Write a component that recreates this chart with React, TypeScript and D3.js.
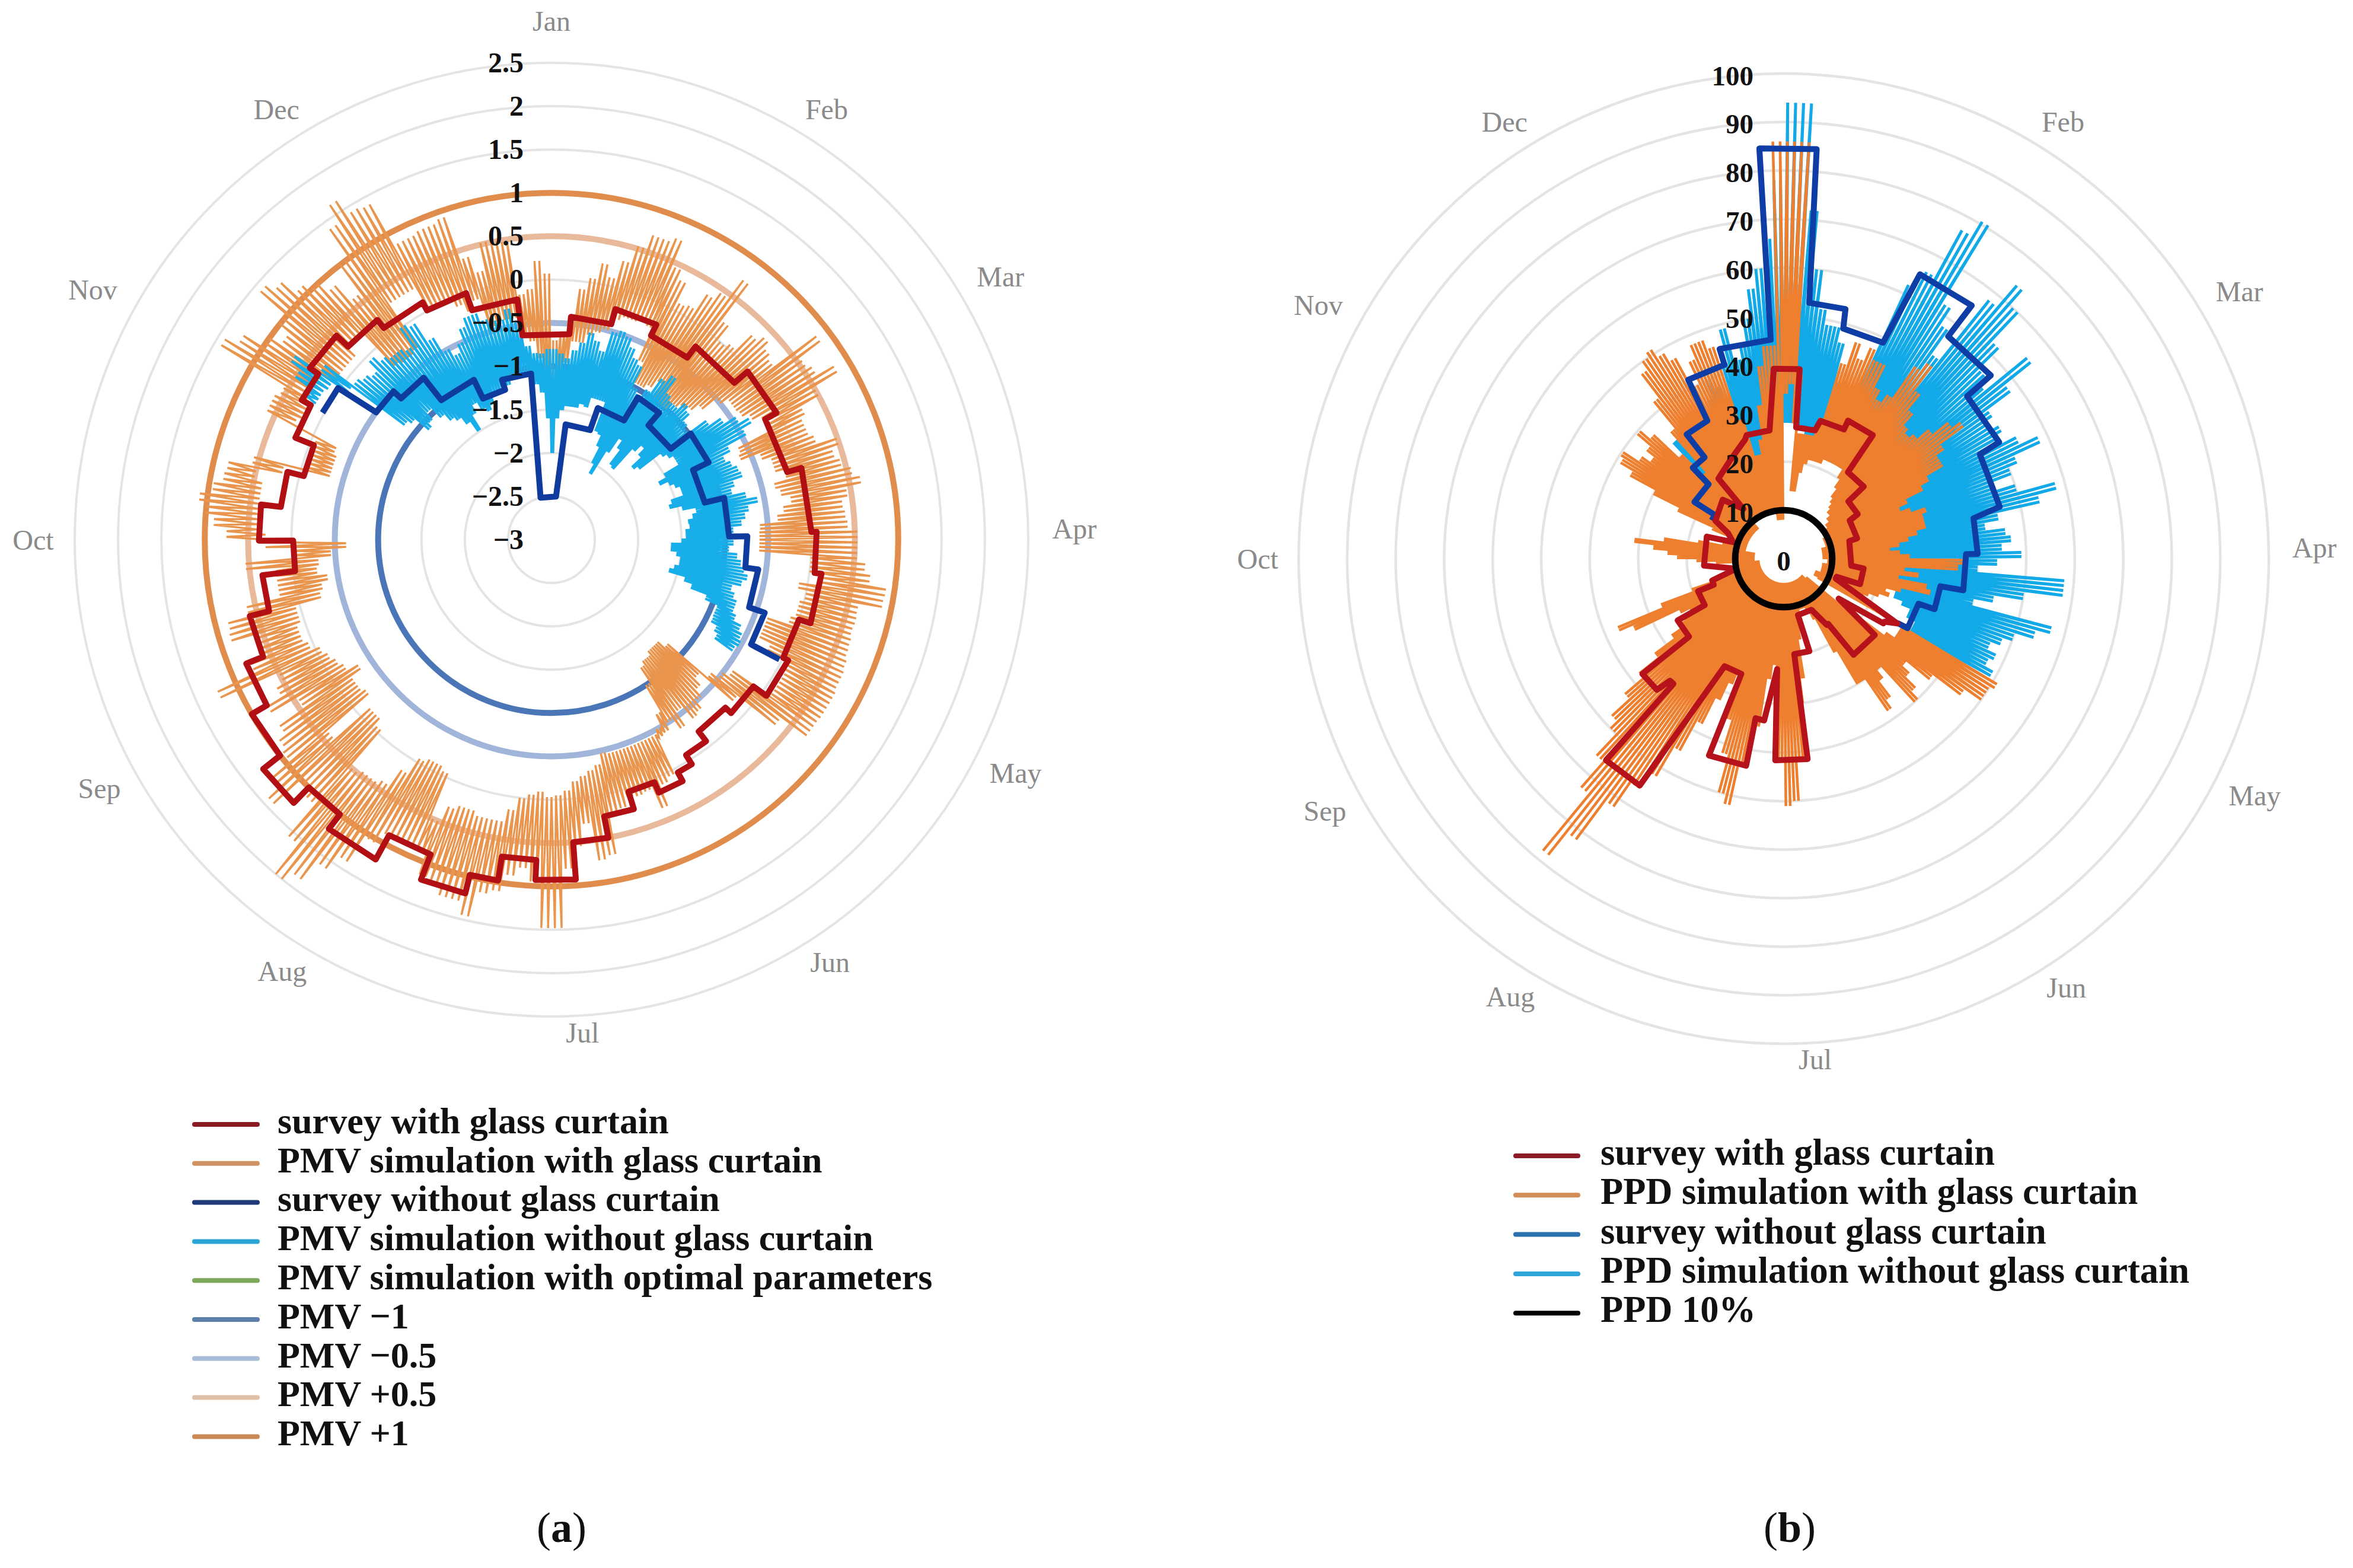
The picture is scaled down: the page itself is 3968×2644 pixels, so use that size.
import * as d3 from "d3";

// ---- data (angles in degrees clockwise from Jan) ----
const monthNames = ["Jan", "Feb", "Mar", "Apr", "May", "Jun", "Jul", "Aug", "Sep", "Oct", "Nov", "Dec"];
const monthAngles = [0, 32.6, 59.6, 88.8, 116.7, 146.6, 176.4, 212, 241.2, 270, 298.6, 327.4];
const monthRadii = [875, 861, 878, 882, 876, 853, 833, 857, 870, 874, 881, 861];

const pmvTicks = [2.5, 2, 1.5, 1, 0.5, 0, -0.5, -1, -1.5, -2, -2.5, -3];
const pmvTickLabels = ["2.5", "2", "1.5", "1", "0.5", "0", "−0.5", "−1", "−1.5", "−2", "−2.5", "−3"];
const ppdTicks = [100, 90, 80, 70, 60, 50, 40, 30, 20, 10, 0];

// survey lines: [from angle, to angle, value]
const pmvSurveyGlass: number[][] = [
  [351.9, 365, -0.62], [5, 15.5, -0.42], [15.5, 26, -0.24], [26, 36.7, -0.38], [36.7, 49.4, -0.22],
  [49.4, 60.6, -0.02], [60.6, 74, -0.17], [74, 88.3, 0], [88.3, 97.2, 0.06], [97.2, 107.9, 0.14],
  [107.9, 117, 0], [117, 126, 0.065], [126, 134, -0.12], [134, 142.5, -0.21], [142.5, 148, -0.07],
  [148, 151.5, 0.055], [151.5, 157, 0.17], [157, 163, 0.04], [163, 169.2, 0.25], [169.2, 175.9, 0.5],
  [175.9, 182.7, 0.93], [182.7, 188.9, 0.7], [188.9, 193.7, 0.98], [193.7, 201, 1.2], [201, 208.8, 0.89],
  [208.8, 217.6, 1.21], [217.6, 224.4, 1], [224.4, 231.5, 1.25], [231.5, 239.8, 1], [239.8, 247.9, 0.8],
  [247.9, 255.8, 0.59], [255.8, 263, 0.36], [263, 269.8, -0.02], [269.8, 276.9, 0.375], [276.9, 284.4, 0.145],
  [284.4, 291.7, -0.05], [291.7, 299.2, 0.18], [299.2, 305.4, 0.3], [305.4, 313.5, 0.42], [313.5, 321.6, 0.235],
  [321.6, 331.5, 0.115], [331.5, 340.9, 0.01], [340.9, 351.9, -0.2],
];
const pmvSurveyNoGlass: number[][] = [
  [299, 305.4, 0.02], [306, 313.2, -0.5], [313.2, 321.7, -0.62], [321.7, 334.1, -0.95], [334.1, 342.8, -1.19],
  [342.8, 353, -1.07], [345.4, 366, -2.5], [367, 379.4, -1.66], [379.4, 391.3, -1.39], [391.3, 400.3, -1.08],
  [400.3, 412.7, -1.27], [412.7, 423.8, -0.98], [423.8, 436.4, -1.18], [436.4, 449, -0.95], [449, 458.2, -0.74],
  [458.2, 468.9, -0.59], [468.9, 477.7, -0.4], [477.7, 477.7, -0.03],
];
const ppdSurveyGlass: number[][] = [
  [-3, 4.8, 39.2], [5.4, 13.7, 27.2], [14.9, 25, 29.4], [25, 35.8, 31.4], [36.6, 48, 22.2], [48.5, 59, 17.8],
  [60, 74.5, 15.7], [75, 96, 14], [97, 108.5, 16.6], [109, 111, 11.5], [119.7, 119.7, 27], [122, 123, 24.5],
  [126, 126, 14], [130, 144, 24.5], [145.7, 147, 16.3], [151.5, 165.8, 12], [164.5, 173.7, 19.8], [173.2, 182.4, 41.6],
  [183.4, 183.4, 22.8], [186.9, 186.9, 33.6], [190, 190, 33.4], [190.3, 200.8, 43.4], [200.2, 208.8, 25.3],
  [212.4, 221.4, 55.4], [221.4, 223, 34.4], [224, 230.8, 37.6], [230.5, 239.8, 25.3], [239.5, 249.2, 18.9],
  [249.5, 253, 15.4], [258, 258, 10], [265, 286, 16.5], [288, 288, 11], [294.6, 294.6, 12.6], [299, 299, 16.1],
  [314, 314, 17.5], [321, 321, 13.2], [320.8, 320.8, 21.3], [331, 331, 23], [342, 342, 25.8], [343.3, 353.7, 26.6],
];
const ppdSurveyNoGlass: number[][] = [
  [298, 302.4, 16.8], [302.4, 314.7, 21.8], [315, 322, 26.5], [322, 331, 32.5], [331.9, 343, 41.8], [343, 356.6, 45.2],
  [356.6, 364.6, 84.7], [365.7, 373.9, 53], [374.5, 384.7, 49], [385.6, 396.6, 65], [396.5, 408.5, 57], [408.5, 421.6, 50.5],
  [422, 436.5, 45.8], [438, 448.6, 40], [448.6, 460, 37.6], [460, 468.5, 32.8], [468.5, 479.3, 29.3], [479.5, 479.5, 26.9],
];

// simulation series, one low/high pair every 2 degrees
const pmvGlassHigh = [
  -0.7, -0.6, -0.45, -0.09, 0.05, 0.24, 0.1, 0.32, 0.53, 0.7,
  0.7, 0.76, 0.45, 0.34, 0.1, 0.13, 0.35, 0.45, 0.72, 0.2,
  0, 0.05, 0.3, 0.38, 0.3, 0.25, 0.85, 0.55, 0.6, 0.82,
  0.5, 0.26, 0.2, 0.2, 0.25, 0.49, 0.4, 0.45, 0.55, 0.63,
  0.45, 0.38, 0.4, 0.42, 0.53, 0.53, 0.53, 0.63, 0.7, 0.9,
  0.89, 0.62, 0.63, 0.62, 0.64, 0.65, 0.68, 0.7, 0.7, 0.72,
  0.72, 0.72, 0.71, 0.71, 0.35, -0.2, -0.7, -0.6, -0.5, -0.4,
  -0.37, -0.55, -0.36, -0.5, -0.42, -0.4, 0.05, 0.1, 0.35, 0.1,
  0.12, 0.1, 0.2, 0.25, 0.7, 0.74, 0.3, 0.55, 0.8, 1.48,
  1.48, 0.95, 0.8, 0.9, 1.1, 1.15, 1.45, 1.3, 1.3, 1.2,
  1.15, 0.9, 0.9, 0.9, 0.9, 1.05, 1.4, 1.6, 1.87, 2,
  1.57, 1.1, 1, 1.42, 1.25, 0.95, 0.9, 0.8, 0.45, 0.8,
  0.6, 0.5, 1.23, 0.75, 0.6, 0.55, 0.87, 0.85, 0.6, 0.2,
  0.2, 0.2, 0.54, 0, 0.3, 0.75, 0.9, 1, 1.09, 0.95,
  0.85, 0.83, 0.56, -0.07, -0.07, -0.07, -0.05, 0.6, 0.6, 0.55,
  1.42, 1.26, 1, 0.85, 1, 1.41, 1.3, 1.1, 1, 0.85,
  0.6, 1, 1.4, 1.63, 1.43, 1.4, 0.85, 0.85, 0.88, 0.88,
  0.92, 0.4, 0.2, 0.52, 0.5, 0.48, -0.15, -0.1, 0.22, 0.07,
];
const pmvGlassLow = [
  -2, -1.1, -0.95, -0.7, -0.7, -0.6, -0.55, -0.5, -0.35, -0.3,
  -0.3, -0.25, -0.3, -0.7, -0.95, -0.95, -0.9, -0.8, -1, -1,
  -1, -0.9, -0.85, -0.8, -0.7, -0.5, -0.4, -0.4, -0.38, -0.3,
  -0.2, -0.2, -0.6, -0.63, -0.4, -0.3, -0.3, -0.2, -0.35, -0.3,
  -0.2, -0.3, -0.38, -0.59, -0.6, -0.6, -0.6, 0, 0, 0.15,
  -0.1, 0, -0.05, -0.05, -0.1, -0.35, -0.35, -0.35, -0.2, 0.05,
  0.1, 0.1, 0.1, -0.42, -0.5, -0.6, -1.2, -1.3, -1.3, -1.3,
  -1.25, -1.25, -1.2, -1, -0.65, -0.5, -0.45, -0.45, -0.45, -0.45,
  -0.45, -0.45, -0.45, -0.47, -0.35, -0.3, -0.25, -0.2, -0.1, -0.05,
  -0.03, -0.09, -0.05, 0, 0.15, 0.3, 0.3, 0.3, 0.25, 0.25,
  0.3, 0.5, -0.05, -0.1, -0.1, -0.05, 0.17, 0.4, 0.45, 0.45,
  0.5, -0.05, -0.14, -0.14, 0.4, -0.24, -0.2, -0.2, -0.34, -0.2,
  -0.15, -0.1, -0.05, 0.05, 0.1, 0.1, 0.05, 0.05, -0.26, -0.3,
  -0.38, -0.27, -0.3, -0.45, -0.63, 0.3, 0.4, 0.4, 0.4, 0.4,
  0.4, 0.5, 0.2, -0.34, -0.34, -0.34, -0.3, 0.25, 0.2, 0.2,
  0.25, 0.25, 0.25, 0.1, 0.1, 0.1, 0.1, 0.2, 0.2, -0.3,
  -0.33, -0.33, -0.3, 0.3, 0.3, 0.3, 0, 0, 0, -0.1,
  -0.2, -0.1, -0.45, -0.41, -0.41, -0.41, -0.6, -0.7, -0.9, -1.4,
];
const pmvNoGlassStart = 300;
const pmvNoGlassHigh = [
  0.3, 0.5, 0.64, 0.3, -0.1, -0.15, -0.2, -0.06, -0.15, -0.2,
  -0.2, -0.25, 0, -0.05, -0.3, -0.5, -0.6, -0.5, -0.35, -0.25,
  -0.25, -0.35, -0.39, -0.4, -0.29, -0.45, -0.75, -0.84, -0.85, -0.8,
  -0.8, -0.85, -0.9, -0.8, -0.7, -0.57, -0.65, -0.75, -0.5, -0.46,
  -0.5, -0.6, -0.7, -0.75, -1, -1.05, -0.95, -0.75, -0.65, -0.85,
  -0.9, -0.9, -0.8, -0.85, -0.95, -1, -0.75, -0.6, -0.45, -0.33,
  -0.45, -0.7, -0.8, -0.75, -0.7, -0.68, -0.8, -0.85, -0.7, -0.58,
  -0.7, -0.75, -0.8, -0.9, -0.85, -0.9, -0.95, -0.85, -0.8, -0.75,
  -0.7, -0.75, -0.85, -0.8, -0.75, -0.75, -0.7, -0.6, -0.55, -0.52,
  -0.55,
];
const pmvNoGlassLow = [
  0.14, 0.14, 0.11, -0.1, -0.85, -0.9, -1.1, -1.05, -0.95, -1.1,
  -1.2, -1.25, -1.35, -1.49, -1.3, -1.2, -1.3, -1.35, -1.3, -1.2,
  -1.2, -1.15, -1.15, -1.1, -1.1, -1.05, -1.05, -1.2, -1.3, -1.6,
  -2, -1.6, -1.5, -1.45, -1.45, -1.45, -1.4, -1.42, -1.3, -1.3,
  -1.3, -1.65, -1.67, -1.8, -2, -2.12, -1.8, -1.6, -1.7, -1.9,
  -1.92, -1.6, -1.5, -1.6, -1.75, -1.7, -1.4, -1.35, -1.3, -1.3,
  -1.5, -1.6, -1.5, -1.45, -1.4, -1.4, -1.55, -1.59, -1.45, -1.3,
  -1.35, -1.41, -1.4, -1.45, -1.45, -1.5, -1.62, -1.62, -1.55, -1.5,
  -1.5, -1.55, -1.6, -1.4, -1.3, -1.1, -0.94, -0.94, -0.93, -0.85,
  -0.8,
];
const ppdGlassHigh = [
  86, 86, 38, 26, 26, 26, 26, 30, 42, 47,
  44, 47, 45, 45, 40, 38, 40, 48, 50, 44,
  40, 37, 36, 37, 40, 44, 46, 40, 38, 38,
  34, 32, 28, 26, 28, 31, 30, 30, 30, 28,
  26, 24, 22, 24, 26, 37, 36, 25, 28, 24,
  30, 31, 25, 22, 23, 21, 19, 18, 16, 22,
  51, 50, 50, 46, 39, 33, 35, 38, 40, 30,
  32, 36, 38, 30, 30, 22, 14, 12, 11, 11,
  11, 11, 12, 13, 17, 25, 30, 41, 50, 51,
  41, 30, 22, 25, 35, 43, 52, 50, 42, 35,
  25, 28, 32, 38, 45, 52, 56, 62, 72, 78,
  63, 56, 50, 48, 43, 38, 33, 28, 25, 24,
  22, 24, 34, 37, 27, 20, 16, 14, 11, 11,
  10, 10, 9, 14, 18, 22, 24, 27, 31, 25,
  18, 13, 11, 10, 10, 12, 16, 24, 30, 36,
  39, 39.7, 36, 34, 36, 39.6, 37, 30, 24, 35,
  42, 48, 50, 51, 49, 47, 40, 45, 48, 48,
  46, 30, 22, 22, 25, 32, 40, 44, 44, 86,
];
const ppdGlassLow = [
  34, 36, 28, 14, 14, 18, 20, 21, 21, 21,
  21, 22, 22, 22, 22, 22, 22, 20, 18, 16,
  15, 14, 13, 13, 12, 12, 11, 11, 10, 10,
  10, 10, 9, 9, 9, 9, 9, 9, 8, 8,
  8, 8, 8, 8, 8, 9, 9, 9, 9, 8,
  8, 8, 8, 8, 8, 8, 7, 7, 7, 8,
  28, 28, 28, 26, 20, 6, 6, 5, 5, 5,
  5, 5, 5, 5, 5, 5, 5, 5, 5, 5,
  5, 5, 5, 5, 5, 5, 5, 5, 5, 5,
  5, 5, 5, 5, 5, 5, 5, 5, 5, 5,
  5, 5, 5, 5, 5, 5, 5, 5, 5, 5,
  5, 5, 5, 5, 5, 5, 5, 5, 5, 5,
  5, 5, 5, 5, 5, 5, 5, 5, 5, 5,
  5, 5, 6, 6, 6, 6, 6, 6, 6, 6,
  8, 8, 8, 8, 8, 8, 8, 8, 8, 8,
  8, 8, 8, 8, 8, 8, 8, 8, 8, 8,
  10, 10, 10, 10, 10, 10, 10, 10, 10, 10,
  10, 10, 10, 10, 10, 10, 8, 8, 8, 8,
];
const ppdNoGlassStart = 316;
const ppdNoGlassHigh = [
  33, 28, 24, 22, 22, 24, 26, 28, 30, 36,
  40, 38, 35, 42, 49, 42, 45, 50, 56, 60,
  66, 78, 94, 94, 72, 60, 52, 49, 49, 46,
  38, 33, 32, 35, 62, 66, 77, 80.6, 62, 58,
  52, 68, 74, 70, 62, 56, 54, 65, 58, 52,
  50, 52, 50, 54, 58, 52, 50, 46, 50, 58,
  54, 45, 42, 46, 47, 45, 49, 44, 40, 58,
  58, 50, 44, 40, 57, 54, 50, 48, 46, 48,
  47, 49, 33,
];
const ppdNoGlassLow = [
  12, 12, 12, 12, 12, 12, 12, 12, 18, 18,
  18, 18, 18, 18, 18, 18, 18, 22, 25, 25,
  25, 26, 28, 28, 28, 27, 27, 26, 26, 26,
  26, 26, 27, 26, 24, 24, 23, 23, 22, 22,
  22, 22, 24, 24, 22, 20, 20, 22, 22, 20,
  20, 22, 18, 18, 18, 18, 18, 18, 18, 18,
  18, 18, 18, 18, 18, 18, 18, 18, 20, 20,
  22, 22, 22, 22, 24, 24, 24, 26, 28, 28,
  30, 30, 30,
];

const pmvRefLevels = [-1, -0.5, 0.5, 1];
const pmvRefColors = ["#4a76b8", "#a1b5da", "#e8b99a", "#e08c4c"];

const legendA = [
  { label: "survey with glass curtain", color: "#8b1a22" },
  { label: "PMV simulation with glass curtain", color: "#cf9364" },
  { label: "survey without glass curtain", color: "#1f3a7a" },
  { label: "PMV simulation without glass curtain", color: "#2ba5d6" },
  { label: "PMV simulation with optimal parameters", color: "#7ea95b" },
  { label: "PMV −1", color: "#5b7fa6" },
  { label: "PMV −0.5", color: "#a9bdd9" },
  { label: "PMV +0.5", color: "#dfc0a8" },
  { label: "PMV +1", color: "#c98a58" },
];
const legendB = [
  { label: "survey with glass curtain", color: "#8d1a24" },
  { label: "PPD simulation with glass curtain", color: "#d18c57" },
  { label: "survey without glass curtain", color: "#2b72ad" },
  { label: "PPD simulation without glass curtain", color: "#2fa5d8" },
  { label: "PPD 10%", color: "#000000" },
];

const WIDTH = 3968;
const HEIGHT = 2644;
const SERIF = "'Liberation Serif', serif";
const rad = (deg: number) => (deg * Math.PI) / 180;

type PolarPoint = [number, number];

const pmvR = d3.scaleLinear().domain([-3, 2.5]).range([0, 804]);
const ppdR = d3.scaleLinear().domain([0, 100]).range([0, 818]);

function surveyPoints(steps: number[][]): PolarPoint[] {
  return steps.flatMap(([a, b, v]) => [[a, v], [b, v]] as PolarPoint[]);
}

// the line swings between low and high twice inside each 2 degree bin
function spikePoints(start: number, low: number[], high: number[]): PolarPoint[] {
  return low.flatMap((lo, i) => {
    const a = start + i * 2;
    return [[a, lo], [a + 0.5, high[i]], [a + 1, lo], [a + 1.5, high[i]]] as PolarPoint[];
  });
}

function radial(scale: d3.ScaleLinear<number, number>, closed: boolean) {
  return d3
    .lineRadial<PolarPoint>()
    .angle((d) => rad(d[0]))
    .radius((d) => scale(d[1]))
    .curve(closed ? d3.curveLinearClosed : d3.curveLinear);
}

function Legend({ items, y, dy, handleX, handleW, textX, fontSize }: any) {
  return (
    <g>
      {items.map((item: any, i: number) => (
        <g key={item.label} transform={`translate(0,${y + i * dy})`}>
          <line x1={handleX} x2={handleX + handleW} y1={0} y2={0} stroke={item.color} strokeWidth={8} strokeLinecap="round" />
          <text x={textX} y={0} dy="0.24em" fontFamily={SERIF} fontWeight={700} fontSize={fontSize} fill="#111">
            {item.label}
          </text>
        </g>
      ))}
    </g>
  );
}

function Rings({ cx, cy, values, scale, width }: any) {
  return (
    <g transform={`translate(${cx},${cy})`}>
      {values.map((v: number) => (
        <circle key={v} r={scale(v)} fill="none" stroke="#e4e4e4" strokeWidth={width} />
      ))}
    </g>
  );
}

function MonthLabels({ cx, cy, skipJan, extra }: any) {
  return (
    <g fontFamily={SERIF} fontSize={48} fill="#8a8a8a" textAnchor="middle">
      {monthNames.map((m, i) => {
        if (skipJan && i === 0) return null;
        const r = monthRadii[i] + extra;
        const a = rad(monthAngles[i]);
        return (
          <text key={m} x={cx + r * Math.sin(a)} y={cy - r * Math.cos(a)} dy="0.35em">
            {m}
          </text>
        );
      })}
    </g>
  );
}

function PanelA() {
  const cx = 930;
  const cy = 910;
  const line = radial(pmvR, false);
  const closed = radial(pmvR, true);
  return (
    <g>
      <Rings cx={cx} cy={cy} values={pmvTicks.filter((t) => t > -3)} scale={pmvR} width={4} />
      <MonthLabels cx={cx} cy={cy} skipJan={false} extra={0} />
      <g transform={`translate(${cx},${cy})`} fill="none">
        {pmvRefLevels.map((v, i) => (
          <circle key={v} r={pmvR(v)} stroke={pmvRefColors[i]} strokeWidth={10} />
        ))}
        <path d={closed(spikePoints(0, pmvGlassLow, pmvGlassHigh)) ?? ""} stroke="#e9954e" strokeWidth={3.4} />
        <path d={line(spikePoints(pmvNoGlassStart, pmvNoGlassLow, pmvNoGlassHigh)) ?? ""} stroke="#17aee9" strokeWidth={4} />
        <path d={line(surveyPoints(pmvSurveyNoGlass)) ?? ""} stroke="#0f3a9e" strokeWidth={10} strokeLinejoin="round" />
        <path d={closed(surveyPoints(pmvSurveyGlass)) ?? ""} stroke="#b20f15" strokeWidth={10} strokeLinejoin="round" />
      </g>
      <g fontFamily={SERIF} fontWeight={700} fontSize={48} textAnchor="end" fill="#111">
        {pmvTicks.map((t, i) => (
          <text key={t} x={cx - 47} y={cy - pmvR(t)} dy="0.33em">
            {pmvTickLabels[i]}
          </text>
        ))}
      </g>
    </g>
  );
}

function PanelB() {
  const cx = 3008;
  const cy = 942;
  const line = radial(ppdR, false);
  const closed = radial(ppdR, true);
  return (
    <g>
      <Rings cx={cx} cy={cy} values={ppdTicks.filter((t) => t > 0)} scale={ppdR} width={4.5} />
      <MonthLabels cx={cx} cy={cy} skipJan={true} extra={13} />
      <g transform={`translate(${cx},${cy})`} fill="none">
        <path d={line(spikePoints(ppdNoGlassStart, ppdNoGlassLow, ppdNoGlassHigh)) ?? ""} stroke="#12a9e8" strokeWidth={5} />
        <path d={closed(spikePoints(0, ppdGlassLow, ppdGlassHigh)) ?? ""} stroke="#ee7f2e" strokeWidth={4.5} />
        <path d={line(surveyPoints(ppdSurveyNoGlass)) ?? ""} stroke="#0f3da6" strokeWidth={10} strokeLinejoin="round" />
        <path d={closed(surveyPoints(ppdSurveyGlass)) ?? ""} stroke="#b5121b" strokeWidth={10} strokeLinejoin="round" />
        <circle r={ppdR(10)} stroke="#000" strokeWidth={11} />
      </g>
      <g fontFamily={SERIF} fontWeight={700} fontSize={47} fill="#111">
        {ppdTicks.map((t) => (
          <text key={t} x={t === 0 ? cx : cx - 51} y={cy - ppdR(t) + 4} dy="0.33em" textAnchor={t === 0 ? "middle" : "end"}>
            {t}
          </text>
        ))}
      </g>
    </g>
  );
}

export default function App() {
  return (
    <svg
      width={WIDTH}
      height={HEIGHT}
      viewBox={`0 0 ${WIDTH} ${HEIGHT}`}
      style={{ position: "absolute", left: 0, top: 0, display: "block", background: "#fff" }}
    >
      <PanelA />
      <PanelB />
      <Legend items={legendA} y={1896} dy={65.8} handleX={328} handleW={106} textX={468} fontSize={62} />
      <Legend items={legendB} y={1949} dy={66.3} handleX={2556} handleW={105} textX={2699} fontSize={62.5} />
      <text x={947} y={2600} textAnchor="middle" fontFamily={SERIF} fontSize={72} fill="#111">
        (<tspan fontWeight={700}>a</tspan>)
      </text>
      <text x={3018} y={2600} textAnchor="middle" fontFamily={SERIF} fontSize={72} fill="#111">
        (<tspan fontWeight={700}>b</tspan>)
      </text>
    </svg>
  );
}
